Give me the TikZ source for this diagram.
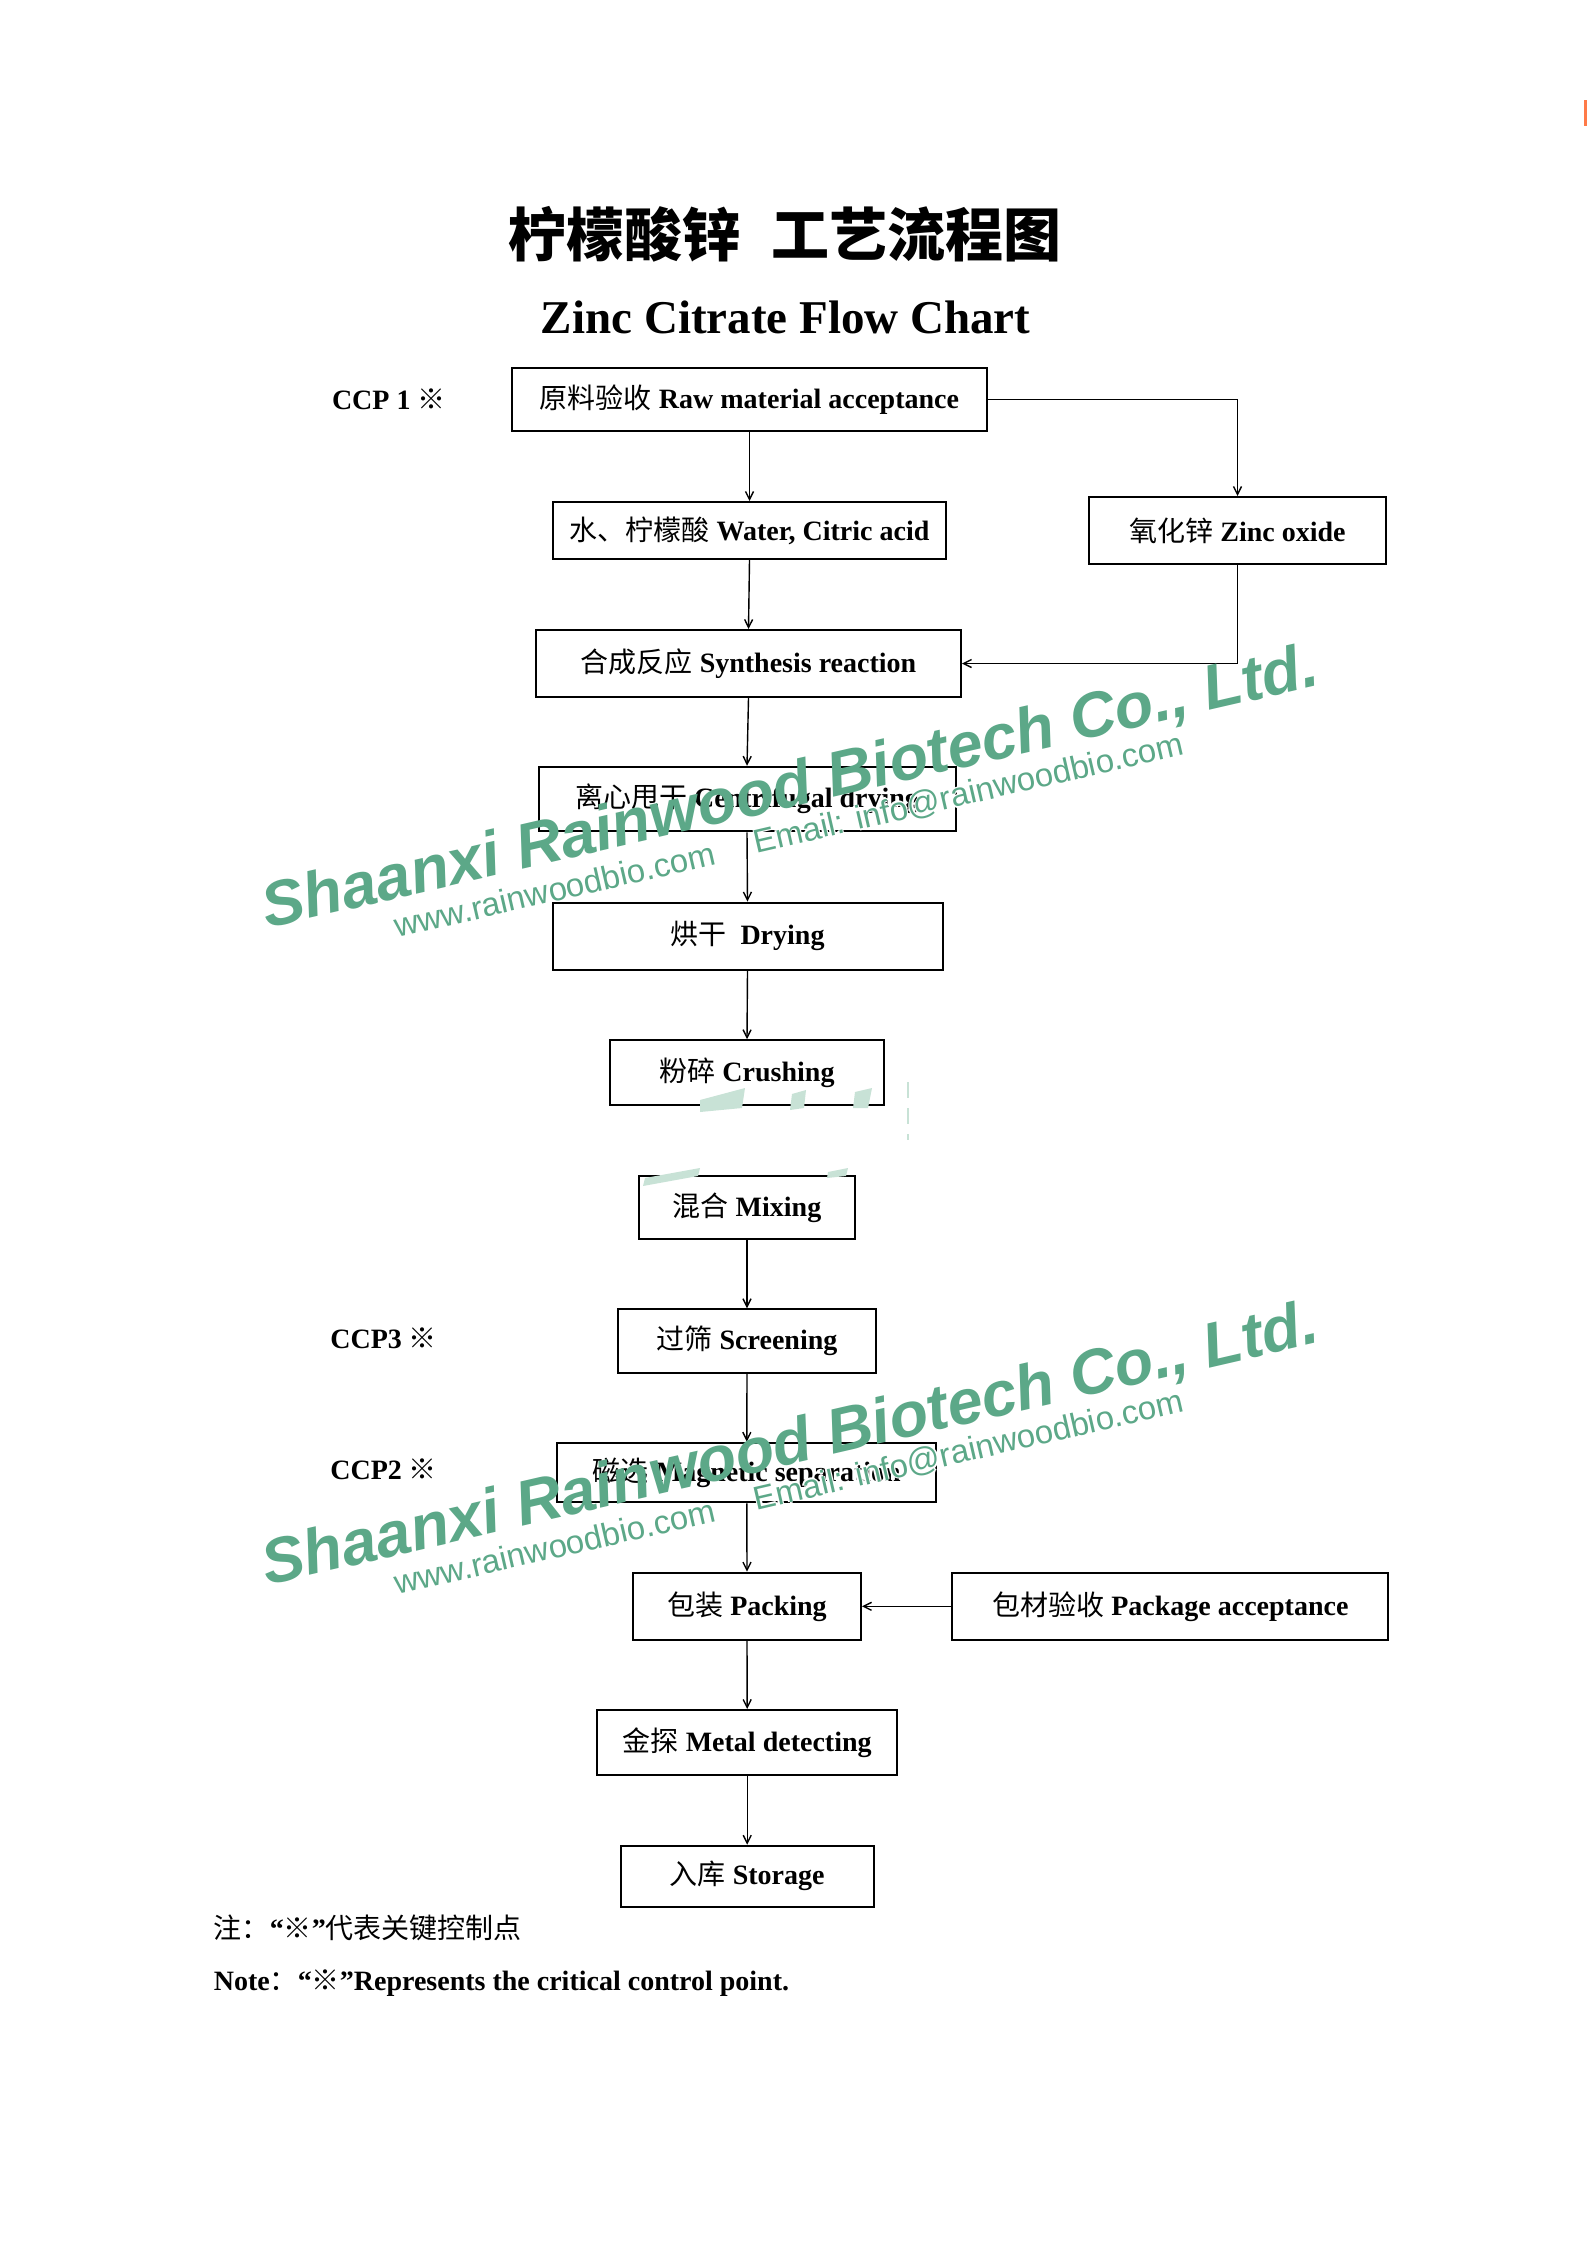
\documentclass[tikz,border=0pt]{standalone}
\usepackage{fontspec}
\setmainfont{Liberation Serif}
\setsansfont{Liberation Sans}
\newfontfamily\cjkfont{Noto Sans CJK SC}
\usetikzlibrary{arrows.meta}
\newcommand\zh[1]{{\cjkfont\mdseries #1}}
\newcommand\zhb[1]{{\cjkfont\bfseries #1}}
\definecolor{wmgreen}{RGB}{92,168,136}
\definecolor{wmfaint}{RGB}{200,226,214}
\definecolor{markorange}{RGB}{255,122,72}

\begin{document}
\begin{tikzpicture}[x=0.5pt,y=-0.5pt,
  box/.style={draw=black, line width=1pt, inner sep=0pt, font=\fontsize{14pt}{16pt}\selectfont\bfseries, align=center},
  arr/.style={line width=0.7pt, -{Straight Barb[length=4pt,width=4pt]}},
  lbl/.style={font=\fontsize{14pt}{16pt}\selectfont\bfseries, anchor=base west, inner sep=0pt},
  wm/.style={text=wmgreen, inner sep=0pt, anchor=base west, rotate=13},
  wmbig/.style={wm, font=\sffamily\bfseries\itshape\fontsize{31.6pt}{34pt}\selectfont},
  wmsmall/.style={wm, font=\sffamily\fontsize{16.5pt}{18pt}\selectfont},
  halo/.style={text=white},
]
\fill[white] (0,0) rectangle (1587,2245);
\useasboundingbox (0,0) rectangle (1587,2245);

% orange mark at the right edge
\fill[markorange] (1584,100) rectangle (1587,126);

% titles
\node[anchor=base, inner sep=0pt, font=\fontsize{29pt}{32pt}\selectfont] (t1) at (785,256) {\zhb{柠檬酸锌}\hspace{15.5pt}\zhb{工艺流程图}};
\node[anchor=base, inner sep=0pt, font=\fontsize{23.5pt}{26pt}\selectfont\bfseries] (t2) at (785.7,333.3) {Zinc Citrate Flow Chart};

% boxes
\node[box, minimum width=237.5pt, minimum height=31.5pt] (raw) at (749.5,399.5) {\zh{原料验收} Raw material acceptance};
\node[box, minimum width=196.5pt, minimum height=28.5pt] (water) at (749.5,530.5) {\zh{水、柠檬酸} Water, Citric acid};
\node[box, minimum width=148.5pt, minimum height=33.5pt] (zinc) at (1237.5,530.5) {\zh{氧化锌} Zinc oxide};
\node[box, minimum width=212.5pt, minimum height=33.5pt] (synth) at (748.5,663.5) {\zh{合成反应} Synthesis reaction};
\node[box, minimum width=208.5pt, minimum height=32.25pt] (centri) at (747,799) {\zh{离心甩干} Centrifugal drying};
\node[box, minimum width=195pt, minimum height=33.5pt] (dry) at (747.5,936) {\zh{烘干}\ \ Drying};
\node[box, minimum width=137.2pt, minimum height=32.5pt] (crush) at (747,1072.7) {\zh{粉碎} Crushing};
\node[box, minimum width=107.75pt, minimum height=31.5pt] (mix) at (747,1207.5) {\zh{混合} Mixing};
\node[box, minimum width=129.25pt, minimum height=31.75pt] (screen) at (747,1341) {\zh{过筛} Screening};
\node[box, minimum width=189.5pt, minimum height=29.8pt] (mag) at (746.8,1472.5) {\zh{磁选} Magnetic separation};
\node[box, minimum width=114pt, minimum height=33.65pt] (pack) at (747,1606.3) {\zh{包装} Packing};
\node[box, minimum width=218pt, minimum height=33.65pt] (pkgacc) at (1170.4,1606.3) {\zh{包材验收} Package acceptance};
\node[box, minimum width=150.25pt, minimum height=32.5pt] (metal) at (747.2,1742.5) {\zh{金探} Metal detecting};
\node[box, minimum width=126.4pt, minimum height=30.5pt] (store) at (747.2,1876.2) {\zh{入库} Storage};

% CCP labels
\node[lbl] (ccp1) at (331.6,409) {CCP 1 \zh{※}};
\node[lbl] (ccp3) at (330,1348.3) {CCP3 \zh{※}};
\node[lbl] (ccp2) at (330,1479.3) {CCP2 \zh{※}};

% connectors
\draw[arr] (raw.south) -- (water.north);
\draw[arr] (water.south) -- (synth.north);
\draw[arr] (raw.east) -| (zinc.north);
\draw[arr] (zinc.south) |- (synth.east);
\draw[arr] (synth.south) -- (centri.north);
\draw[arr] (centri.south) -- (dry.north);
\draw[arr] (dry.south) -- (crush.north);
\draw[arr] (mix.south) -- (screen.north);
\draw[arr] (screen.south) -- (mag.north);
\draw[arr] (mag.south) -- (pack.north);
\draw[arr] (pkgacc.west) -- (pack.east);
\draw[arr] (pack.south) -- (metal.north);
\draw[arr] (metal.south) -- (store.north);

% notes
\node[lbl] (note1) at (213.5,1938) {\zh{注：}“\zh{※}”\zh{代表关键控制点}};
\node[lbl] (note2) at (213.5,1990.7) {Note\zh{：}“\zh{※}”Represents the critical control point.};

% faint remnants between crushing and mixing
\draw[wmfaint, line width=1.2pt, dash pattern=on 8pt off 5pt] (908,1082) -- (908,1140);
\fill[wmfaint] (700,1100) -- (745,1088) -- (742,1108) -- (700,1112) -- cycle;
\fill[wmfaint] (792,1094) -- (806,1090) -- (804,1108) -- (790,1110) -- cycle;
\fill[wmfaint] (855,1092) -- (872,1088) -- (868,1108) -- (853,1108) -- cycle;
\fill[wmfaint] (645,1178) -- (700,1168) -- (698,1176) -- (643,1186) -- cycle;
\fill[wmfaint] (828,1172) -- (848,1168) -- (846,1176) -- (827,1178) -- cycle;

% thin white halo round the small watermark lines
\foreach \sx/\sy [count=\k] in {0.8/0,-0.8/0,0/0.8,0/-0.8} {
  \node[wmsmall, halo, xshift=\sx pt, yshift=\sy pt] (hC\k) at (756.5,853.3) {Email: info@rainwoodbio.com};
  \node[wmsmall, halo, xshift=\sx pt, yshift=\sy pt] (hF\k) at (756.5,1510.3) {Email: info@rainwoodbio.com};
}

% watermarks
\node[wmbig] (wma) at (267.5,928.3) {Shaanxi Rainwood Biotech Co., Ltd.};
\node[wmsmall] (wmb) at (397,938) {www.rainwoodbio.com};
\node[wmsmall] (wmc) at (756.5,853.3) {Email: info@rainwoodbio.com};
\node[wmbig] (wmd) at (267.5,1585.3) {Shaanxi Rainwood Biotech Co., Ltd.};
\node[wmsmall] (wme) at (397,1595) {www.rainwoodbio.com};
\node[wmsmall] (wmf) at (756.5,1510.3) {Email: info@rainwoodbio.com};
\end{tikzpicture}
\end{document}
